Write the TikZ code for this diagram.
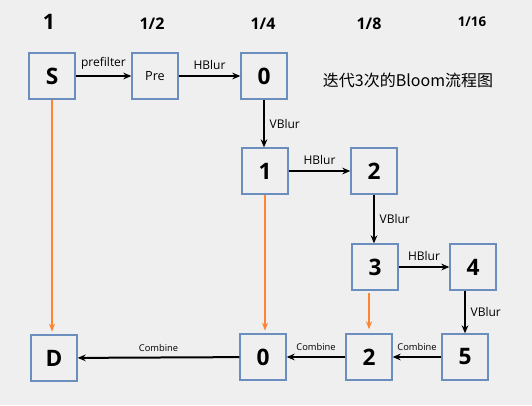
\documentclass[tikz,border=0pt]{standalone}
\usepackage{fontspec}
\setmainfont{Open Sans}
\newfontfamily\cjk{Noto Sans CJK SC}
\usetikzlibrary{arrows.meta}
\definecolor{boxblue}{HTML}{6C8EBF}
\definecolor{mergeorange}{HTML}{FF8533}
\definecolor{bggray}{HTML}{EFEFEF}

\begin{document}
\begin{tikzpicture}[x=0.75pt,y=-0.75pt,
  pass/.style={draw=boxblue,line width=1.5pt,minimum width=34pt,minimum height=34pt,inner sep=0pt,font=\bfseries\fontsize{17}{20}\selectfont},
  flow/.style={-{Stealth[length=6pt,width=5pt]},line width=1.5pt},
  merge/.style={-{Stealth[length=6pt,width=4.5pt]},line width=1.2pt,mergeorange},
  lbl/.style={font=\fontsize{9}{10}\selectfont,inner sep=1pt},
  tiny/.style={font=\fontsize{7}{8}\selectfont,inner sep=1pt},
  level/.style={font=\bfseries\fontsize{12}{14}\selectfont}]
\fill[bggray] (0,0) rectangle (532,405);
\useasboundingbox (0,0) rectangle (532,405);

% resolution of each column
\node[level,font=\bfseries\fontsize{16}{18}\selectfont] (r1) at (49,22) {1};
\node[level] (r2) at (152,24) {1/2};
\node[level] (r4) at (263,24) {1/4};
\node[level] (r8) at (369,24) {1/8};
\node[level,font=\bfseries\fontsize{10}{12}\selectfont] (r16) at (472,22) {1/16};

\node[font=\cjk\fontsize{12}{14}\selectfont] (title) at (408,80) {迭代3次的Bloom流程图};

% downsample chain
\node[pass] (S) at (52,76) {S};
\node[pass,font=\mdseries\fontsize{9.5}{11}\selectfont] (Pre) at (155,76) {Pre};
\node[pass] (d0) at (264,76) {0};
\node[pass] (d1) at (265,171) {1};
\node[pass] (d2) at (374,171) {2};
\node[pass] (d3) at (375,267) {3};
\node[pass] (d4) at (473,267) {4};

% upsample chain
\node[pass] (u5) at (465,357) {5};
\node[pass] (u2) at (369,357) {2};
\node[pass] (u0) at (263,357) {0};
\node[pass] (D) at (54,358) {D};

\draw[flow] (S) -- node[lbl,above=3pt] {prefilter} (Pre);
\draw[flow] (Pre) -- node[lbl,above=3pt] {HBlur} (d0);
\draw[flow] (d0.south) -- node[lbl,right=2.5pt] {VBlur} (d0.south |- d1.north);
\draw[flow] (d1) -- node[lbl,above=3pt] {HBlur} (d2);
\draw[flow] (d2.south) -- node[lbl,right=2.5pt] {VBlur} (d2.south |- d3.north);
\draw[flow] (d3) -- node[lbl,above=3pt] {HBlur} (d4);
\draw[flow] (d4.south -| u5) -- node[lbl,right=2.5pt] {VBlur} (u5.north);

\draw[flow] (u5) -- node[tiny,above=3pt] {Combine} (u2);
\draw[flow] (u2) -- node[tiny,above=3pt] {Combine} (u0);
\draw[flow] (u0) -- node[tiny,above=3pt] {Combine} (D);

% combine inputs
\draw[merge] (S.south) -- ([yshift=2]S.south |- D.north);
\draw[merge] (d1.south) -- ([yshift=2]d1.south |- u0.north);
\draw[merge,shorten <=2pt] (d3.south -| u2) -- ([yshift=3]u2.north);
\end{tikzpicture}
\end{document}
